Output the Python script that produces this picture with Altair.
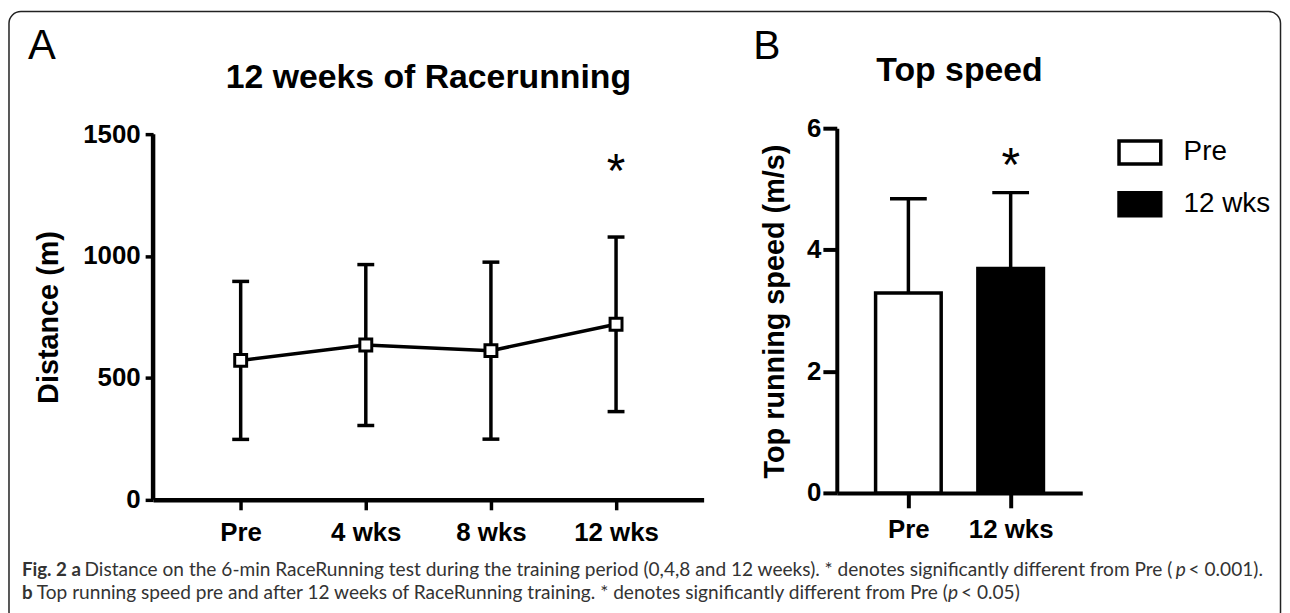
import altair as alt
import pandas as pd

# ---------------- data ----------------
weeks = ["Pre", "4 wks", "8 wks", "12 wks"]
dist_mean = [572, 635, 612, 720]
dist_sd = [324, 330, 363, 358]
dist_sig = ["", "", "", "*"]
dist_sig_y = [None, None, None, 1378]
dist_ticks = [0, 500, 1000, 1500]

speed_groups = ["Pre", "12 wks"]
speed_mean = [3.29, 3.69]
speed_sd = [1.55, 1.25]
speed_sig = ["", "*"]
speed_sig_y = [None, 5.5]
speed_ticks = [0, 2, 4, 6]

title_left = "12 weeks of Racerunning"
title_right = "Top speed"

caption1 = ["Fig. 2 a",
            "Distance on the 6-min RaceRunning test during the training period (0,4,8 and 12 weeks). * denotes significantly different from Pre (",
            "p", "< 0.001)."]
caption2 = ["b",
            "Top running speed pre and after 12 weeks of RaceRunning training. * denotes significantly different from Pre (",
            "p", "< 0.05)"]

FONT = "Liberation Sans"
CFONT = "Lato"
CSIZE = 19.2
CBSIZE = 18.8
CCOL = "#333333"

left_df = pd.DataFrame({"week": weeks, "mean": dist_mean, "sd": dist_sd,
                        "sig": dist_sig, "sig_y": dist_sig_y})
left_df["lo"] = left_df["mean"] - left_df["sd"]
left_df["hi"] = left_df["mean"] + left_df["sd"]

right_df = pd.DataFrame({"group": speed_groups, "mean": speed_mean, "sd": speed_sd,
                         "sig": speed_sig, "sig_y": speed_sig_y})
right_df["hi"] = right_df["mean"] + right_df["sd"]

one = pd.DataFrame({"k": [0]})

# ---------------- left panel ----------------
W1, H1 = 554, 374
y1_top = dist_ticks[-1] * H1 / 368.0

x1 = alt.X("week:N", sort=weeks, scale=alt.Scale(type="point", padding=0.7),
           axis=alt.Axis(title=None, labelAngle=0, labelFont=FONT, labelFontSize=26,
                         labelFontWeight="bold", labelColor="black", tickColor="black",
                         tickSize=10, tickWidth=3.5, domainColor="black", domainWidth=4.5,
                         labelPadding=10))
y1_axis = alt.Axis(title="Distance (m)", values=dist_ticks, format="d", domain=False,
                   tickColor="black", tickSize=8, tickWidth=3.5, labelFont=FONT,
                   labelFontSize=26, labelFontWeight="bold", labelColor="black",
                   labelPadding=5, titleFont=FONT, titleFontSize=29, titleFontWeight="bold",
                   titleColor="black", titleX=-96, titleY=190, titleBaseline="alphabetic")
y1_scale = alt.Scale(domain=[0, y1_top], nice=False, zero=True)


def y1(field):
    return alt.Y(field, type="quantitative", scale=y1_scale, axis=y1_axis)


base1 = alt.Chart(left_df)

frame = alt.Chart(one).mark_rect(fill="white", fillOpacity=0, stroke="#222222",
                                 strokeWidth=1.5, cornerRadius=12).encode(
    x=alt.value(-145), x2=alt.value(1134.5), y=alt.value(-117.5), y2=alt.value(499))

yline = alt.Chart(pd.DataFrame({"lo": [dist_ticks[0]], "hi": [dist_ticks[-1]]})).mark_rule(
    color="black", strokeWidth=4.5).encode(x=alt.value(0), y=y1("lo"), y2="hi")

err1 = base1.mark_rule(color="black", strokeWidth=3.5).encode(x=x1, y=y1("lo"), y2="hi")
cap1 = base1.transform_fold(["lo", "hi"], as_=["end", "val"]).mark_tick(
    orient="horizontal", size=17, thickness=3.5, color="black", opacity=1).encode(x=x1, y=y1("val"))
line1 = base1.mark_line(color="black", strokeWidth=3.5).encode(x=x1, y=y1("mean"))
pts1 = base1.mark_square(size=144, fill="white", stroke="black", strokeWidth=3,
                         opacity=1).encode(x=x1, y=y1("mean"))
star1 = base1.transform_filter(alt.datum.sig != "").mark_text(
    font=FONT, fontSize=48, baseline="middle", dy=9, color="black").encode(
    x=x1, y=y1("sig_y"), text="sig:N")

labelA = alt.Chart(one).mark_text(text="A", font=FONT, fontSize=42, align="left",
                                  baseline="alphabetic", color="black").encode(
    x=alt.value(-126), y=alt.value(-69.5))
titleA = alt.Chart(one).mark_text(text=title_left, font=FONT, fontSize=34, fontWeight="bold",
                                  align="center", baseline="alphabetic", color="black").encode(
    x=alt.value(W1 / 2), y=alt.value(-40))


def cap_text(txt, x, y, size, weight="normal", style="normal"):
    return alt.Chart(one).mark_text(text=txt, font=CFONT, fontSize=size, fontWeight=weight,
                                    fontStyle=style, align="left", baseline="alphabetic",
                                    color=CCOL).encode(x=alt.value(x), y=alt.value(y))


caps = [
    cap_text(caption1[0], -132, 451, CBSIZE, weight="bold"),
    cap_text(caption1[1], -69, 451, CSIZE),
    cap_text(caption1[2], 1029, 451, CSIZE, style="italic"),
    cap_text(caption1[3], 1042, 451, CSIZE),
    cap_text(caption2[0], -132, 474, CBSIZE, weight="bold"),
    cap_text(caption2[1], -117, 474, CSIZE),
    cap_text(caption2[2], 800, 474, CSIZE, style="italic"),
    cap_text(caption2[3], 813, 474, CSIZE),
]

left = alt.layer(frame, yline, err1, cap1, line1, pts1, star1, labelA, titleA, *caps).properties(
    width=W1, height=H1)

# ---------------- right panel ----------------
W2, H2 = 247, 367

x2 = alt.X("group:N", sort=speed_groups, scale=alt.Scale(type="point", padding=0.7),
           axis=alt.Axis(title=None, labelAngle=0, labelFont=FONT, labelFontSize=26,
                         labelFontWeight="bold", labelColor="black", tickColor="black",
                         tickSize=15, tickWidth=4, domainColor="black", domainWidth=4,
                         labelPadding=9))
y2_axis = alt.Axis(title="Top running speed (m/s)", values=speed_ticks, tickColor="black",
                   tickSize=14, tickWidth=4, domainColor="black", domainWidth=4,
                   labelFont=FONT, labelFontSize=26, labelFontWeight="bold",
                   labelColor="black", labelPadding=2, titleFont=FONT, titleFontSize=29,
                   titleFontWeight="bold", titleColor="black", titleX=-54, titleY=184,
                   titleBaseline="alphabetic")
y2_scale = alt.Scale(domain=[speed_ticks[0], speed_ticks[-1]], nice=False)


def y2(field):
    return alt.Y(field, type="quantitative", scale=y2_scale, axis=y2_axis)


base2 = alt.Chart(right_df)

bars = base2.mark_bar(size=66, stroke="black", strokeWidth=3.5).encode(
    x=x2, y=y2("mean"),
    fill=alt.Fill("group:N", sort=speed_groups,
                  scale=alt.Scale(domain=speed_groups, range=["white", "black"]),
                  legend=alt.Legend(title=None, orient="none", legendX=970, legendY=1.5,
                                    symbolType="M-1,-0.55L1,-0.55L1,0.55L-1,0.55Z",
                                    symbolSize=1764, symbolStrokeColor="black",
                                    symbolStrokeWidth=3.5, symbolOpacity=1,
                                    labelFont=FONT, labelFontSize=28, labelColor="black",
                                    labelOffset=21, rowPadding=10, padding=0)))
err2 = base2.mark_rule(color="black", strokeWidth=3.5).encode(x=x2, y=y2("mean"), y2="hi")
cap2 = base2.mark_tick(orient="horizontal", size=37, thickness=3.5, color="black",
                       opacity=1).encode(x=x2, y=y2("hi"))
star2 = base2.transform_filter(alt.datum.sig != "").mark_text(
    font=FONT, fontSize=48, baseline="middle", dy=9, color="black").encode(
    x=x2, y=y2("sig_y"), text="sig:N")
labelB = alt.Chart(one).mark_text(text="B", font=FONT, fontSize=41, align="left",
                                  baseline="alphabetic", color="black").encode(
    x=alt.value(-84), y=alt.value(-70))
titleB = alt.Chart(one).mark_text(text=title_right, font=FONT, fontSize=34, fontWeight="bold",
                                  align="center", baseline="alphabetic", color="black").encode(
    x=alt.value(W2 / 2), y=alt.value(-47))

right = alt.layer(err2, cap2, bars, star2, labelB, titleB).properties(width=W2, height=H2)

chart = alt.hconcat(left, right, spacing=134, bounds="flush").properties(
    padding=0, background="white"
).configure_view(strokeWidth=0).configure_axis(grid=False)

chart.save("out.html", embed_options={"renderer": "svg", "actions": False})
